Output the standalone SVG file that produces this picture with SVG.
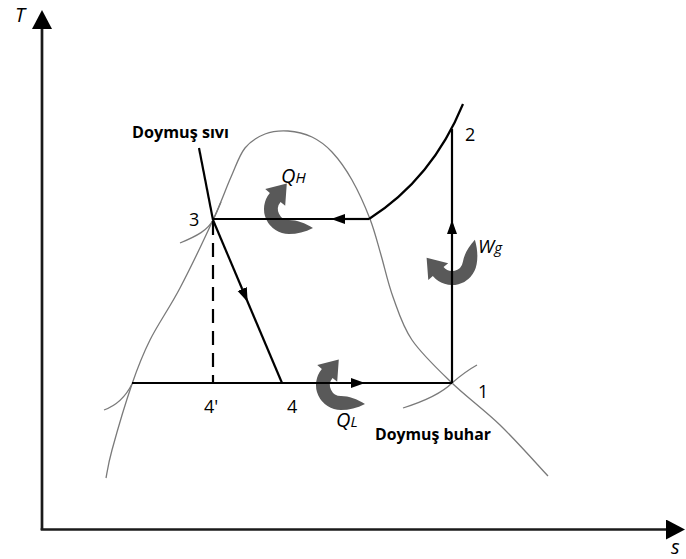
<svg xmlns="http://www.w3.org/2000/svg" xmlns:xlink="http://www.w3.org/1999/xlink" width="686" height="559" viewBox="0 0 686 559">
<style>
.ax{fill:none;stroke:#1a1a1a;stroke-width:2.7}
.pr{fill:none;stroke:#000;stroke-width:2.2}
.th{fill:none;stroke:#7a7a7a;stroke-width:1.3}
.dash{fill:none;stroke:#000;stroke-width:2.2;stroke-dasharray:14 8}
.ca{fill:#595959}
.lbl{font-family:"Open Sans","Noto Sans","Liberation Sans",sans-serif;fill:#000}
.num{font-size:18px}
.it{font-style:italic}
.bd{font-size:16px;font-weight:bold}
</style>
<defs>
<marker id="ah" markerWidth="15" markerHeight="11" refX="0" refY="5.5" orient="auto" markerUnits="userSpaceOnUse" viewBox="0 0 15 11"><path d="M0,0.5 L14,5.5 L0,10.5 Z" fill="#000"/></marker>
<marker id="axh" markerWidth="20" markerHeight="20" refX="0" refY="10" orient="auto" markerUnits="userSpaceOnUse" viewBox="0 0 20 20"><path d="M0,0 L19,10 L0,20 Z" fill="#000"/></marker>
<path id="curl" d="M313,228 C305,232 297,234 289,234 A25,25 0 0 1 269.85,192.9 L265.25,189.1 L286.8,183.6 L285.2,205.8 L280.57,201.9 A11,11 0 0 0 289,220 C297,220 305,223 313,228 Z"/>
</defs>

<g id="axes">
<path class="ax" d="M42,530 L42,29" marker-end="url(#axh)"/>
<path class="ax" d="M40.7,529.5 L666,529.5" marker-end="url(#axh)"/>
<text class="lbl it" x="15" y="22" font-size="20">T</text>
<text class="lbl it" x="671" y="554" font-size="20">s</text>
</g>

<g id="dome">
<path class="th" d="M106,478 C107,473.3 107.7,465.7 112,450 C116.3,434.3 125.7,402.3 132,384 C138.3,365.7 142,356 150,340 C158,324 169.5,308 180,288 C190.5,268 204.5,238.5 213,220 C221.5,201.5 225.7,189 231,177 C236.3,165 239.3,155.2 245,148 C250.7,140.8 257.8,136.8 265,134 C272.2,131.2 280.2,130.5 288,131 C295.8,131.5 304.7,133.5 312,137 C319.3,140.5 325.3,144.8 332,152 C338.7,159.2 345.7,168.8 352,180 C358.3,191.2 365.2,206.5 370,219 C374.8,231.5 377.2,242 381,255 C384.8,268 387.8,282.8 393,297 C398.2,311.2 402.2,325.7 412,340 C421.8,354.3 437.3,368.8 452,383 C466.7,397.2 484,409.5 500,425 C516,440.5 540,467.5 548,476"/>
<path class="th" d="M180,243 C197,236 208,230 213,220 C217,212 219,207 221,202"/>
<path class="th" d="M403,408 C425,401 442,393 452,383 C460,376 468,370 477,365"/>
<path class="th" d="M104,410 C115,406 125,398 132,384"/>
</g>

<g id="heat-arrows">
<use id="arrow-QH" xlink:href="#curl" href="#curl" class="ca"/>
<use id="arrow-QL" xlink:href="#curl" href="#curl" class="ca" transform="translate(52,176)"/>
<use id="arrow-Wg" xlink:href="#curl" href="#curl" class="ca" transform="translate(452,260) rotate(-80) translate(-289,-209)"/>
</g>

<g id="connectors">
<path class="pr" d="M199,148 L213,220"/>
<path class="pr" d="M369,219 L345,219" marker-end="url(#ah)"/>
<path class="pr" d="M345,219 L213,219"/>
<path class="pr" d="M213,220 L242.2,289" marker-end="url(#ah)"/>
<path class="pr" d="M242.2,289 L282,383"/>
<path class="pr" d="M132,383 L351,383" marker-end="url(#ah)"/>
<path class="pr" d="M351,383 L452,383"/>
<path class="pr" d="M452,383 L452,234" marker-end="url(#ah)"/>
<path class="pr" d="M452,234 L452,129"/>
<path class="pr" d="M369,219 C405,196 440,160 463,104"/>
<path class="dash" d="M213,221 L213,383"/>
</g>

<g id="state-1"><text class="lbl num" x="478" y="398">1</text></g>
<g id="state-2"><text class="lbl num" x="465" y="141">2</text></g>
<g id="state-3"><text class="lbl num" x="189" y="226">3</text></g>
<g id="state-4"><text class="lbl num" x="287" y="413">4</text></g>
<g id="state-4p"><text class="lbl num" x="204" y="413">4'</text></g>

<g id="labels">
<text class="lbl bd" x="132" y="138" textLength="97" lengthAdjust="spacingAndGlyphs">Doymuş sıvı</text>
<text class="lbl bd" x="375" y="440" textLength="116" lengthAdjust="spacingAndGlyphs">Doymuş buhar</text>
<text class="lbl it" x="281" y="183" font-size="20">Q<tspan font-size="15">H</tspan></text>
<text class="lbl it" x="336" y="427" font-size="20">Q<tspan font-size="15">L</tspan></text>
<text class="lbl it" x="478" y="253" font-size="19">W<tspan font-size="15">g</tspan></text>
</g>
</svg>
